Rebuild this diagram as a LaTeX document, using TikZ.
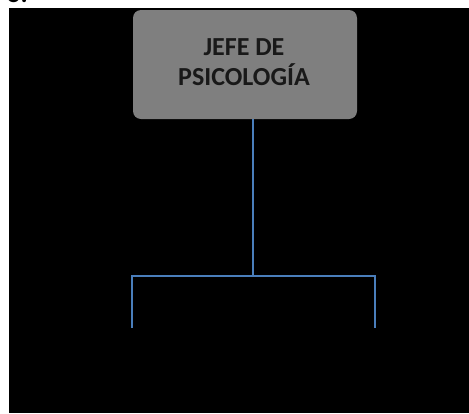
\documentclass[tikz,border=0pt]{standalone}
\usepackage{fontspec}
\setmainfont{Carlito}
\definecolor{boxgray}{HTML}{7F7F7F}
\definecolor{linkblue}{HTML}{4A7EBB}
\tikzset{
    jefebox/.style={fill=boxgray, rounded corners=8pt, minimum width=224pt, minimum height=109pt,
        align=center, inner sep=0pt, font=\bfseries\fontsize{26}{30}\selectfont, text=black!90},
    link/.style={linkblue, line width=2pt}
}

\begin{document}
\begin{tikzpicture}[x=1pt, y=1pt]
        \useasboundingbox (0,0) rectangle (469,-413);
        \fill[white] (0,0) rectangle (469,-413);
        \fill[black] (9,-8) rectangle (469,-413);
        % Below is the cut-off heading at the top.
            \begin{scope}
                \clip (0,0) rectangle (469,-8);
                \node[anchor=base east, inner sep=0pt, font=\bfseries\fontsize{26}{30}\selectfont] (head) at (28,-2.5) {o:};
            \end{scope}
        % This is the box.
            \node[jefebox] (jefe) at (245,-64.5) {};
            \node[align=center, font=\bfseries\fontsize{26}{30}\selectfont, text=black!90] (jefetext) at (244,-62) {JEFE DE\\PSICOLOGÍA};
        % These are the branch points.
            \coordinate (bus) at (253,-276);
            \coordinate (left) at (132,-276);
            \coordinate (right) at (375,-276);
            \coordinate (leftend) at (132,-328);
            \coordinate (rightend) at (375,-328);
        % This draws the lines.
            \draw[link] (jefe.south -| bus) -- (bus);
            \draw[link] (leftend) -- (left) -- (right) -- (rightend);
    \end{tikzpicture}
\end{document}
